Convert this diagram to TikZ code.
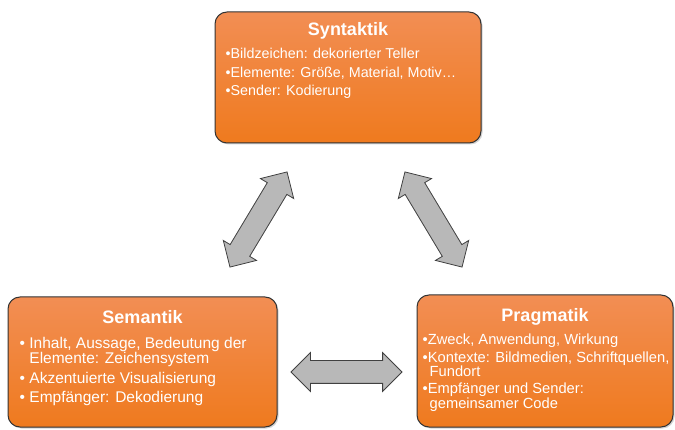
\documentclass[tikz,border=0pt]{standalone}
\usepackage{fontspec}
\setmainfont{Liberation Sans}
\usepackage{tikz}
\usetikzlibrary{shapes,arrows}
\usetikzlibrary{arrows.meta, positioning, shadows}

\definecolor{boxtop}{RGB}{242,142,84}
\definecolor{boxbot}{RGB}{239,122,30}
\definecolor{linkgray}{RGB}{184,184,184}

\tikzset{
    topic/.style={draw=black!80, line width=1pt, rounded corners=12pt,
        top color=boxtop, bottom color=boxbot, inner sep=0,
        drop shadow={shadow xshift=1.5pt, shadow yshift=-1.5pt, opacity=0.35}},
    title/.style={text=white, inner sep=0, font=\fontsize{18}{20}\selectfont\bfseries},
    body/.style={text=white, align=left, inner sep=0},
    link/.style={double arrow, sloped, draw=black!75, fill=linkgray, line width=0.8pt,
        minimum height=111pt, minimum width=38pt, double arrow head extend=8pt, inner sep=11pt}
}

\begin{document}
\begin{tikzpicture}[x=1pt, y=-1pt]
        \useasboundingbox (0,0) rectangle (675,430);

        \node (syn) [topic, minimum width=266pt, minimum height=131pt] at (348,77.5) {};
        \node (sem) [topic, minimum width=269pt, minimum height=130pt] at (142.5,362) {};
        \node (prag) [topic, minimum width=256pt, minimum height=132pt] at (545,361) {};

        \node (synT) [title, below=11pt of syn.north] {Syntaktik};
        \node (semT) [title, below=14pt of sem.north] {Semantik};
        \node (pragT) [title, below=14pt of prag.north] {Pragmatik};

        \node (synB) [body, font=\fontsize{14.3}{18.5}\selectfont, below right=36.5pt and 11pt of syn.north west]
            {•Bildzeichen: dekorierter Teller\\
             •Elemente: Größe, Material, Motiv…\\
             •Sender: Kodierung};
        \node (semB) [body, font=\fontsize{15.5}{15}\selectfont, below right=40.5pt and 12pt of sem.north west]
            {• Inhalt, Aussage, Bedeutung der\\
             \phantom{•~}Elemente: Zeichensystem\\[5pt]
             • Akzentuierte Visualisierung\\[4.5pt]
             • Empfänger: Dekodierung};
        \node (pragB) [body, font=\fontsize{14.7}{14.3}\selectfont, below right=39.5pt and 6pt of prag.north west]
            {•Zweck, Anwendung, Wirkung\\[3pt]
             •Kontexte: Bildmedien, Schriftquellen,\\
             \hspace*{7pt}Fundort\\[3pt]
             •Empfänger und Sender:\\
             \hspace*{7pt}gemeinsamer Code};

        \coordinate (synSW) at (287,172);
        \coordinate (semNE) at (230,267);
        \coordinate (synSE) at (405,172);
        \coordinate (pragNW) at (462,267);
        \coordinate (semE) at (291,372);
        \coordinate (pragW) at (402,372);

        \path
            (semNE) -- node[link] {} (synSW)
            (synSE) -- node[link] {} (pragNW)
            (semE) -- node[link] {} (pragW);
\end{tikzpicture}
\end{document}
